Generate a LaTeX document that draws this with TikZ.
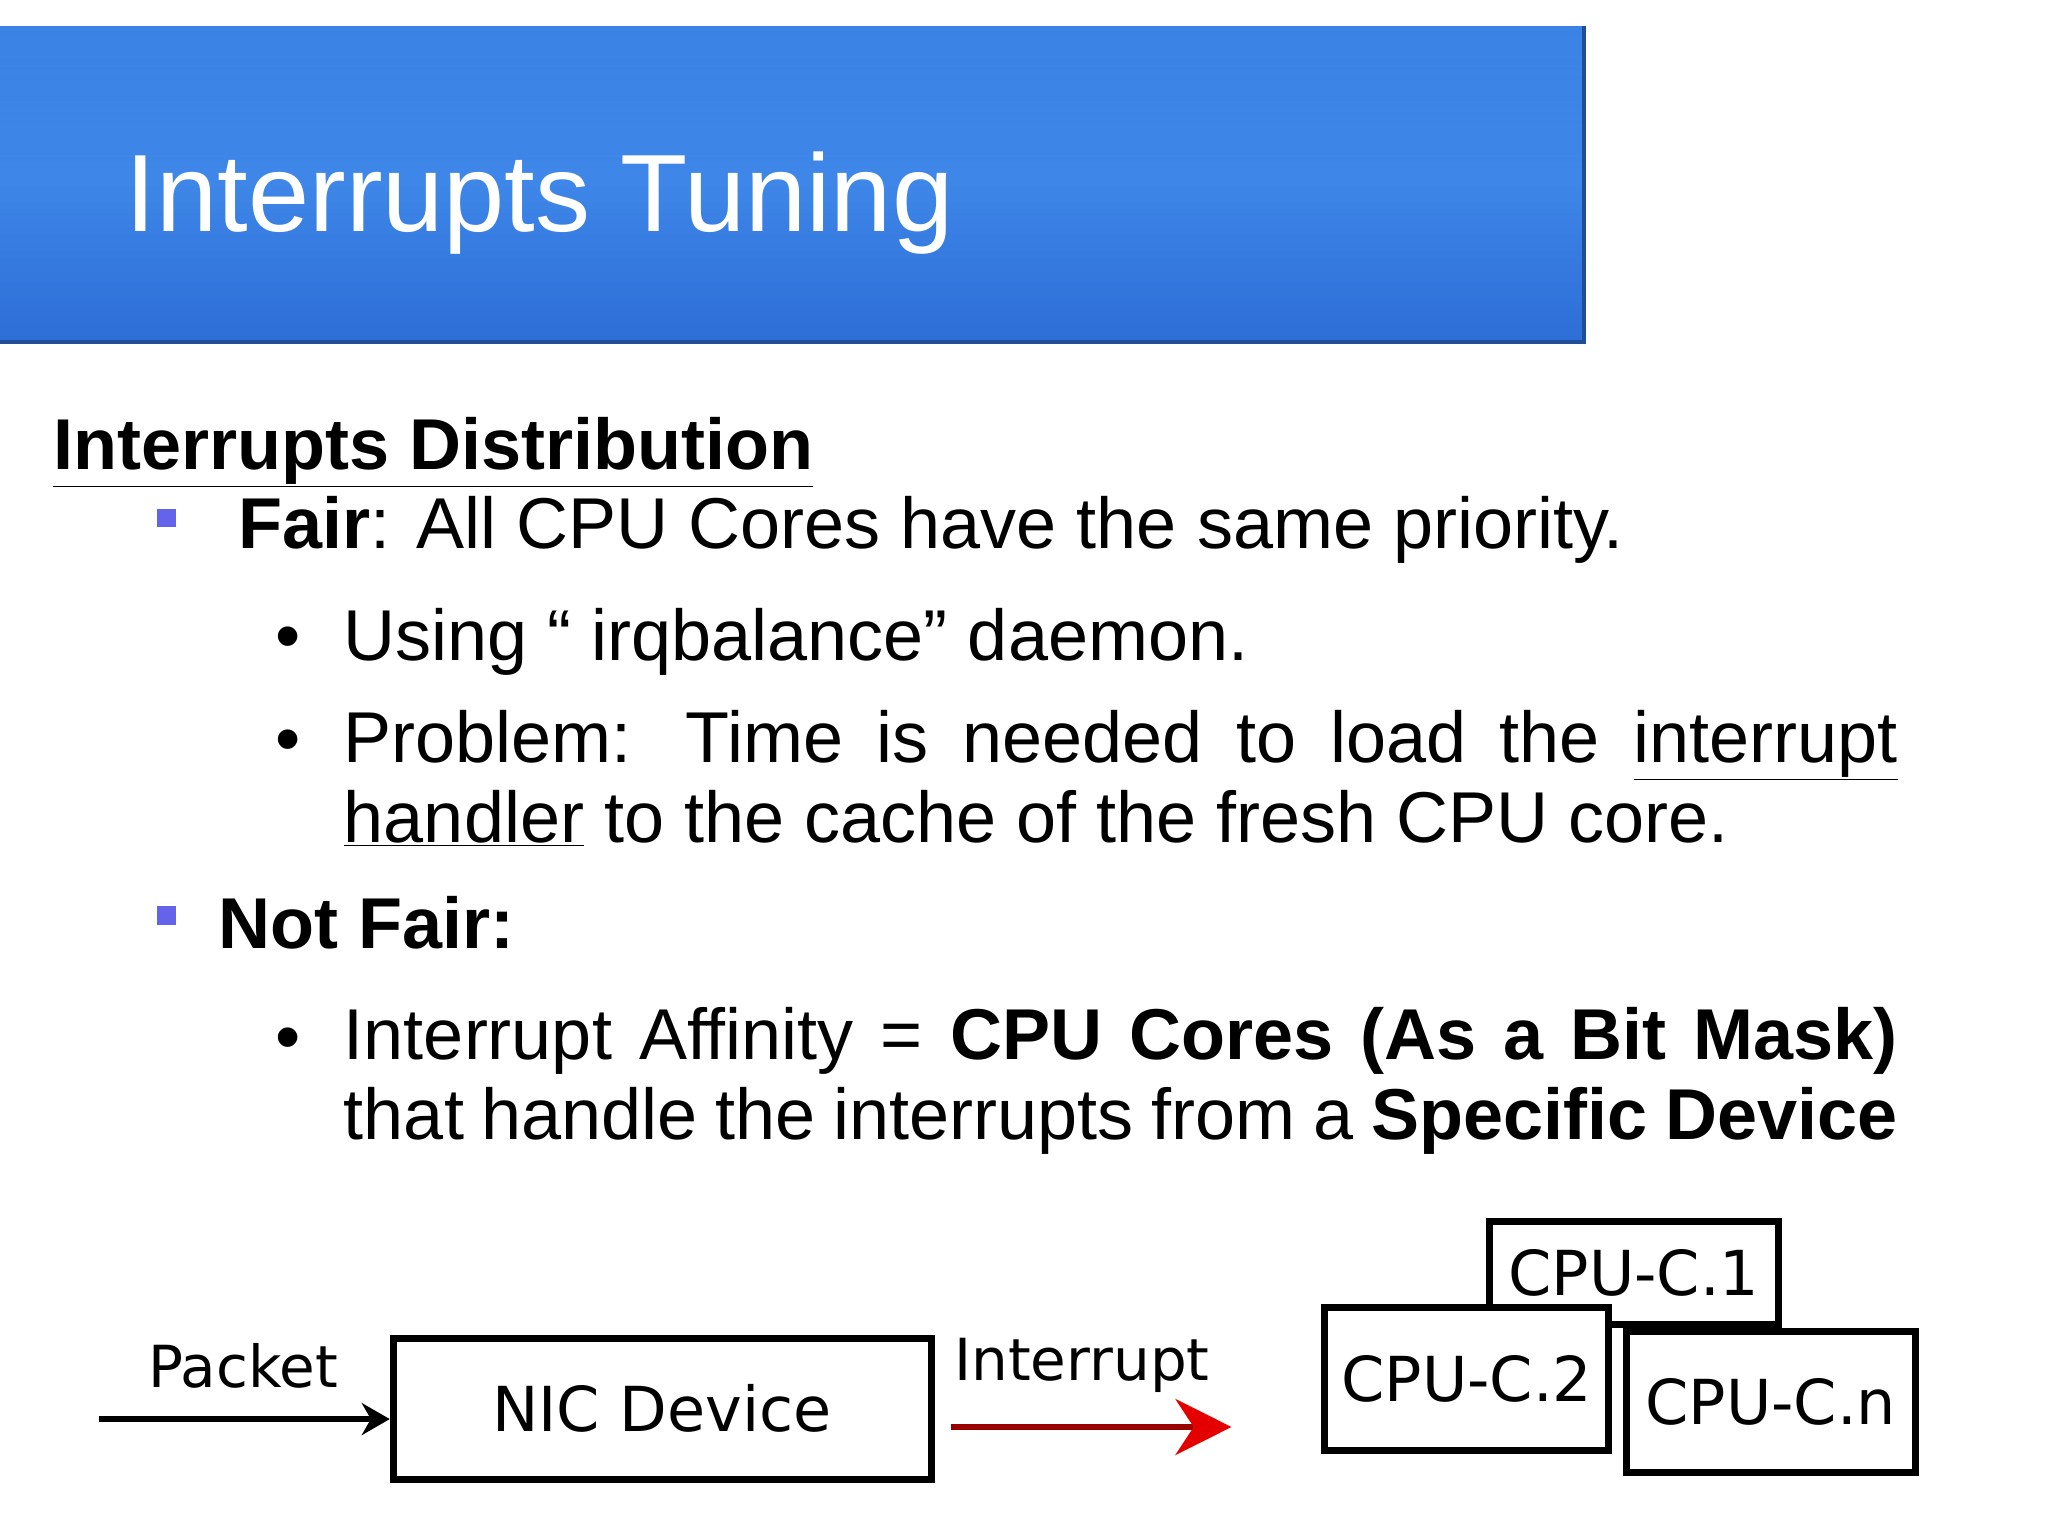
\documentclass[tikz,border=0pt]{standalone}
\usepackage{fontspec}
\setmainfont{Liberation Sans}
\newfontfamily\dvs{DejaVu Sans}
\usetikzlibrary{arrows.meta}
\definecolor{tblue}{RGB}{45,110,215}
\definecolor{tbluel}{RGB}{70,145,240}
\definecolor{bsq}{RGB}{100,100,235}
\tikzset{cpubox/.style={draw,line width=3.5pt,fill=white,inner sep=0pt,font=\dvs\fontsize{31}{31}\selectfont},
  bodytxt/.style={anchor=base west,inner sep=0pt,font=\fontsize{36}{40}\selectfont}}
\begin{document}
\begin{tikzpicture}[x=0.6607pt,y=-0.6607pt]
\useasboundingbox (0,0) rectangle (1550,1162);
\fill[white] (0,0) rectangle (1550,1162);
\shade[left color=tblue,right color=tblue,middle color=tbluel,shading angle=0] (0,20) rectangle (1198,258);
\shade[top color=tbluel,bottom color=tblue,opacity=0.6] (0,20) rectangle (1198,258);
\draw[line width=2pt,tblue!70!black] (0,259) -- (1199,259) -- (1199,20);
\node[anchor=base west,inner sep=0pt,text=white,font=\fontsize{55}{60}\selectfont] (title) at (95,175) {Interrupts Tuning};
\node[bodytxt] (head) at (40,355) {\bfseries\underline{Interrupts Distribution}};
\fill[bsq] (119,385) rectangle (133,399);
\node[bodytxt] (fair) at (180,415) {\textbf{Fair}: All CPU Cores have the same priority.};
\node[bodytxt] (b1) at (208,500) {\textbullet};
\node[bodytxt] (using) at (260,500) {Using “ irqbalance” daemon.};
\node[bodytxt] (b2) at (208,578) {\textbullet};
\node[bodytxt,anchor=north west,text width=777pt,align=justify] (prob) at (260,537) {Problem: Time is needed to load the \underline{interrupt} \underline{handler} to the cache of the fresh CPU core.};
\fill[bsq] (119,686) rectangle (133,700);
\node[bodytxt] (nf) at (165,718) {\textbf{Not Fair:}};
\node[bodytxt] (b3) at (208,803) {\textbullet};
\begin{scope}
\clip (200,740) rectangle (1500,915);
\node[bodytxt,anchor=north west,text width=777pt,align=justify] (aff) at (260,762) {Interrupt Affinity = \textbf{CPU Cores (As a Bit Mask)} that handle the interrupts from a \textbf{Specific Device}};
\end{scope}
% diagram
\node[cpubox,minimum width=407*0.6607pt,minimum height=107*0.6607pt,anchor=north west] (nic) at (295,1010) {NIC Device};
\node[anchor=base west,inner sep=0pt,font=\dvs\fontsize{29}{29}\selectfont] (pk) at (112,1050) {Packet};
\coordinate (pin) at (75,1074);
\draw[line width=3pt,-{Stealth[length=14pt,width=16pt]}] (pin) -- (nic.west|-pin);
\node[anchor=base west,inner sep=0pt,font=\dvs\fontsize{29}{29}\selectfont] (ir) at (722,1045) {Interrupt};
\coordinate (ra) at (720,1080); \coordinate (rb) at (932,1080);
\draw[line width=3pt,red!60!black,-{Stealth[length=28pt,width=28pt,red!90!black]}] (ra) -- (rb);
\node[cpubox,minimum width=218*0.6607pt,minimum height=78*0.6607pt,anchor=north west] (c1) at (1125,922) {CPU-C.1};
\node[cpubox,minimum width=215*0.6607pt,minimum height=108*0.6607pt,anchor=north west] (c2) at (1000,987) {CPU-C.2};
\node[cpubox,minimum width=219*0.6607pt,minimum height=107*0.6607pt,anchor=north west] (cn) at (1228,1005) {CPU-C.n};
\end{tikzpicture}
\end{document}
